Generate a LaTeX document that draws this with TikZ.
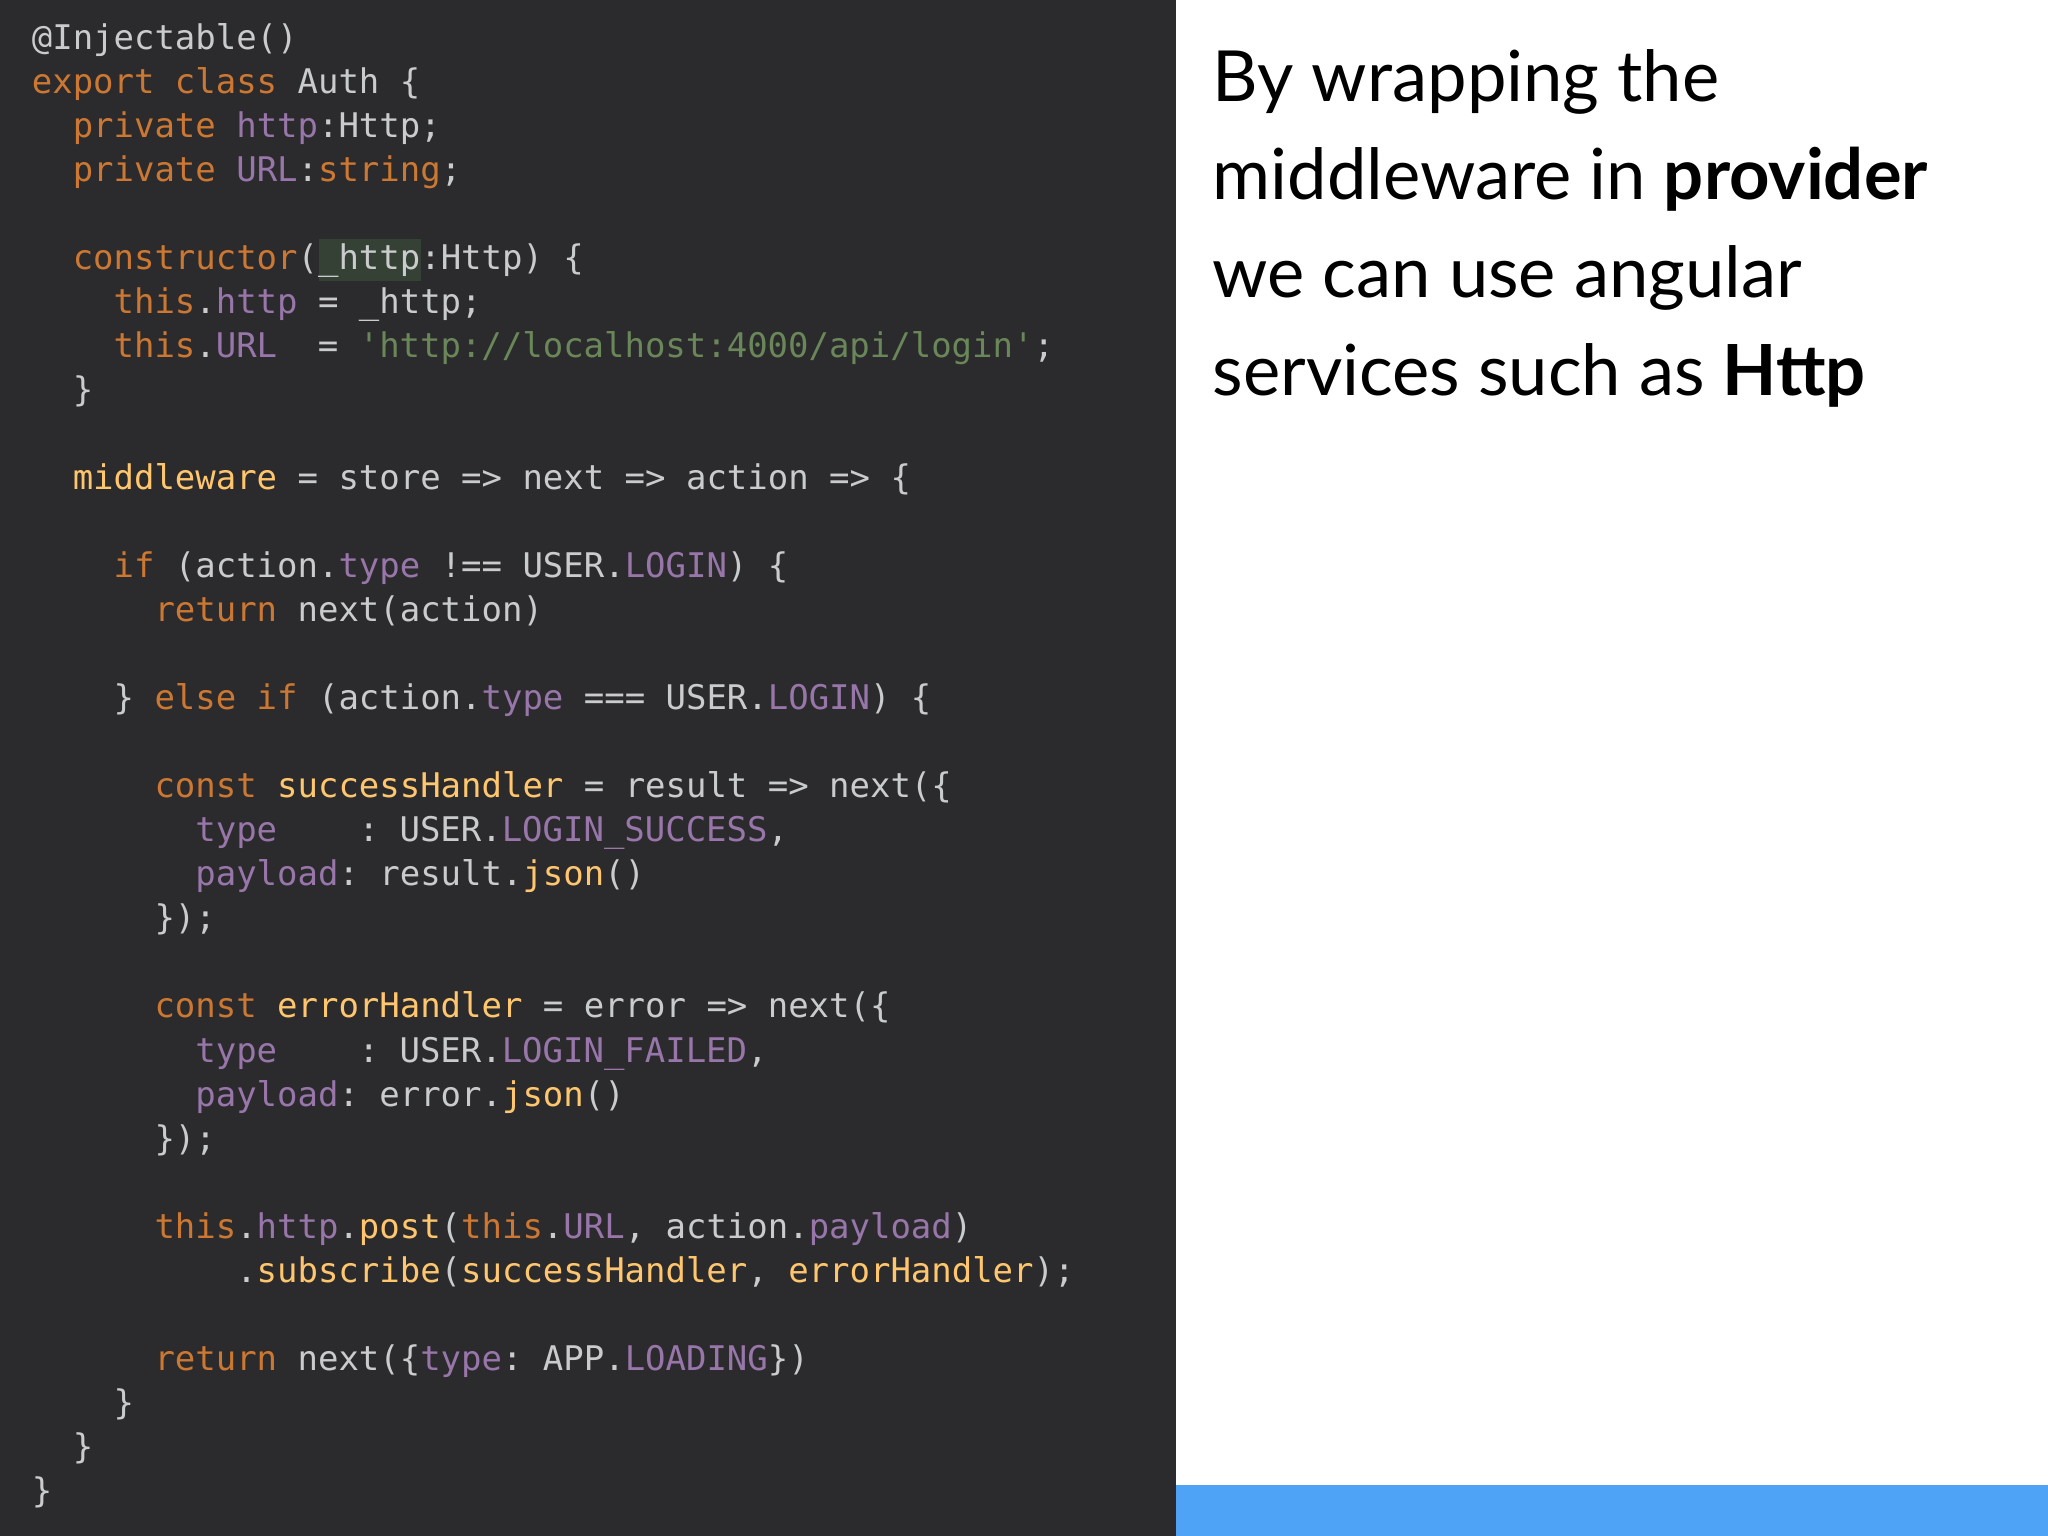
\documentclass[tikz,border=0pt]{standalone}
\usepackage{fontspec}
\setmainfont{Lato}
\setmonofont{DejaVu Sans Mono}
\definecolor{bgd}{HTML}{2B2B2D}
\definecolor{blu}{HTML}{4FA3F6}
\definecolor{ck}{HTML}{CC7832}
\definecolor{cf}{HTML}{FFC66D}
\definecolor{cp}{HTML}{9876AA}
\definecolor{cs}{HTML}{6A8759}
\definecolor{cd}{HTML}{C9CBCC}
\definecolor{hl}{HTML}{344134}
\newcommand\K[1]{\textcolor{ck}{#1}}
\newcommand\F[1]{\textcolor{cf}{#1}}
\newcommand\PP[1]{\textcolor{cp}{#1}}
\newcommand\SG[1]{\textcolor{cs}{#1}}
\newcommand\gapsp[1]{\hspace*{#1\dimexpr 7.8pt\relax}}
\newcommand\LN[3]{\node[codeline] (l#1) at ({24+15.65*#2},{38+33.7*#1}) {#3};}
\tikzset{codeline/.style={anchor=base west,inner sep=0pt,font=\ttfamily\fontsize{13}{15}\selectfont,text=cd},
 rt/.style={anchor=base west,inner sep=0pt,font=\fontsize{27}{30}\selectfont,text=black}}
\begin{document}
\begin{tikzpicture}[x=0.5pt,y=-0.5pt]
\useasboundingbox (0,0) rectangle (1568,1176);
\fill[bgd] (0,0) rectangle (900,1176);
\fill[blu] (900,1137) rectangle (1568,1176);
\fill[hl] (244,183) rectangle (322,215);
\LN{0}{0}{@Injectable()}
\LN{1}{0}{\K{export class} Auth \{}
\LN{2}{2}{\K{private} \PP{http}:Http;}
\LN{3}{2}{\K{private} \PP{URL}:\K{string};}
\LN{5}{2}{\K{constructor}(\_http:Http) \{}
\LN{6}{4}{\K{this}.\PP{http} = \_http;}
\LN{7}{4}{\K{this}.\PP{URL}\gapsp{2}= \SG{'http://localhost:4000/api/login'};}
\LN{8}{2}{\}}
\LN{10}{2}{\F{middleware} = store => next => action => \{}
\LN{12}{4}{\K{if} (action.\PP{type} !== USER.\PP{LOGIN}) \{}
\LN{13}{6}{\K{return} next(action)}
\LN{15}{4}{\} \K{else if} (action.\PP{type} === USER.\PP{LOGIN}) \{}
\LN{17}{6}{\K{const} \F{successHandler} = result => next(\{}
\LN{18}{8}{\PP{type}\gapsp{4}: USER.\PP{LOGIN\_SUCCESS},}
\LN{19}{8}{\PP{payload}: result.\F{json}()}
\LN{20}{6}{\});}
\LN{22}{6}{\K{const} \F{errorHandler} = error => next(\{}
\LN{23}{8}{\PP{type}\gapsp{4}: USER.\PP{LOGIN\_FAILED},}
\LN{24}{8}{\PP{payload}: error.\F{json}()}
\LN{25}{6}{\});}
\LN{27}{6}{\K{this}.\PP{http}.\F{post}(\K{this}.\PP{URL}, action.\PP{payload})}
\LN{28}{10}{.\F{subscribe}(\F{successHandler}, \F{errorHandler});}
\LN{30}{6}{\K{return} next(\{\PP{type}: APP.\PP{LOADING}\})}
\LN{31}{4}{\}}
\LN{32}{2}{\}}
\LN{33}{0}{\}}
\node[rt] (r1) at (928,78) {By wrapping the};
\node[rt] (r2) at (928,153) {middleware in \textbf{provider}};
\node[rt] (r3) at (928,228) {we can use angular};
\node[rt] (r4) at (928,303) {services such as \textbf{Http}};
\end{tikzpicture}
\end{document}
